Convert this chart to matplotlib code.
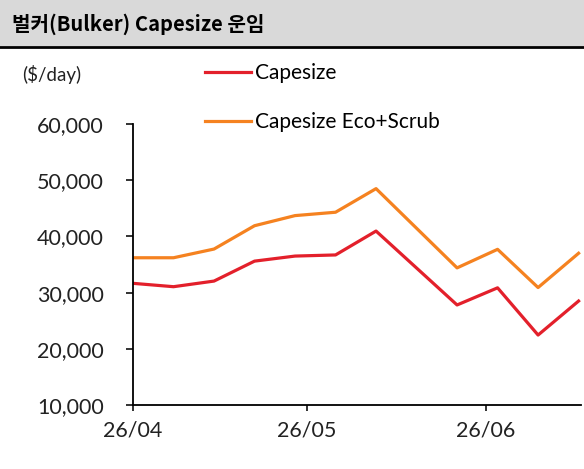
import matplotlib
matplotlib.use("Agg")
import matplotlib.pyplot as plt
import matplotlib.dates as mdates
import pandas as pd
from matplotlib.patches import Rectangle
from matplotlib.lines import Line2D

# 주간 운임 데이터
dates = ["2026-04-01", "2026-04-08", "2026-04-15", "2026-04-22", "2026-04-29",
         "2026-05-06", "2026-05-13", "2026-05-27", "2026-06-03", "2026-06-10",
         "2026-06-17"]
capesize = [31650, 31050, 32050, 35600, 36500, 36700, 40950, 27800, 30850, 22450, 28500]
eco_scrub = [36200, 36200, 37750, 41900, 43700, 44300, 48500, 34400, 37700, 30900, 37000]
tick_dates = ["2026-04-01", "2026-05-01", "2026-06-01"]
yticks = [10000, 20000, 30000, 40000, 50000, 60000]

x = pd.to_datetime(dates)

plt.rcParams['font.family'] = ['Lato', 'DejaVu Sans']

fig = plt.figure(figsize=(5.84, 4.69), dpi=100)
W, H = 584, 469

# 제목 영역
fig.patches.append(Rectangle((0, 1 - 46 / H), 1, 46 / H, transform=fig.transFigure,
                             facecolor="#d9d9d9", edgecolor="none", zorder=0))
fig.add_artist(Line2D([0, 1], [1 - 47 / H, 1 - 47 / H], transform=fig.transFigure,
                      color="black", lw=2))
fig.text(12 / W, 1 - 24 / H, "벌커(Bulker) Capesize 운임", fontsize=14.5, fontweight="bold",
         family=["Noto Sans CJK KR", "DejaVu Sans"], va="center", ha="left")

ax = fig.add_axes([133 / W, 64 / H, (581 - 133) / W, (405 - 124) / H])
ax.plot(x, capesize, color="#e3202b", lw=2.3, label="Capesize")
ax.plot(x, eco_scrub, color="#f58220", lw=2.3, label="Capesize Eco+Scrub")

ax.set_ylim(10000, 60000)
ax.set_xlim(pd.Timestamp("2026-04-01"), pd.Timestamp("2026-06-17 10:00"))
ax.set_yticks(yticks)
ax.set_yticklabels([f"{v:,}" for v in yticks])
ax.set_xticks(pd.to_datetime(tick_dates))
ax.xaxis.set_major_formatter(mdates.DateFormatter("%y/%m"))

for s in ["top", "right"]:
    ax.spines[s].set_visible(False)
for s in ["left", "bottom"]:
    ax.spines[s].set_linewidth(1.3)
    ax.spines[s].set_color("black")
ax.tick_params(axis="y", length=5, width=1.3, pad=16, labelsize=15.5, colors="#222222")
ax.tick_params(axis="x", length=4.5, width=1.3, pad=7, labelsize=15.5, colors="#222222")
for lbl in ax.get_xticklabels() + ax.get_yticklabels():
    lbl.set_color("#222222")

fig.text(22 / W, 1 - 75 / H, "($/day)", fontsize=13.5, va="center", ha="left", color="#222222")

fig.legend(loc="upper left", bbox_to_anchor=(205 / W, 1 - 63 / H), frameon=False,
           fontsize=15, handlelength=2.2, handletextpad=0.2, labelspacing=1.4,
           borderpad=0, borderaxespad=0)

fig.savefig("out.png", dpi=100)
